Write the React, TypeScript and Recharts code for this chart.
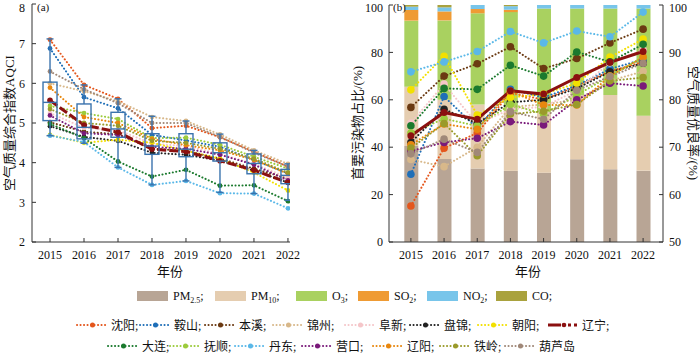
import React from 'react';
import { ComposedChart, Bar, Line, XAxis, YAxis } from 'recharts';

const years = [2015, 2016, 2017, 2018, 2019, 2020, 2021, 2022];
const cities = ['沈阳', '鞍山', '本溪', '锦州', '阜新', '盘锦', '朝阳', '辽宁', '大连', '抚顺', '丹东', '营口', '辽阳', '铁岭', '葫芦岛'];
const cityColors = ['#e4561c', '#1f6fb8', '#6b3a12', '#d8b88a', '#f5c6c9', '#222222', '#f2e000', '#8b1010', '#1b7a2e', '#9ccb3c', '#5ab8e8', '#7a1a7a', '#e8870e', '#9a9a2a', '#a08878'];
const provinceName = '辽宁';

// (a) AQCI per city (order = cities)
const aqci: number[][] = [
  [7.1, 5.96, 5.61, 4.87, 4.93, 4.64, 4.28, 3.9],
  [6.88, 5.65, 5.37, 4.7, 4.56, 4.4, 4.07, 3.73],
  [5.02, 4.78, 4.72, 4.35, 4.3, 4.1, 3.85, 3.6],
  [6.0, 5.8, 5.55, 5.15, 5.05, 4.71, 4.31, 3.97],
  [5.25, 4.88, 4.82, 4.48, 4.42, 4.22, 3.97, 3.62],
  [4.92, 4.65, 4.55, 4.25, 4.2, 4.05, 3.8, 3.5],
  [4.7, 4.5, 4.58, 4.5, 4.3, 4.1, 3.75, 3.3],
  [5.57, 4.95, 4.77, 4.34, 4.28, 4.05, 3.81, 3.5],
  [4.98, 4.62, 4.03, 3.65, 3.82, 3.42, 3.43, 3.03],
  [5.43, 5.25, 5.1, 4.62, 4.63, 4.45, 4.15, 3.85],
  [4.68, 4.52, 3.88, 3.44, 3.54, 3.23, 3.22, 2.85],
  [5.19, 4.74, 4.7, 4.4, 4.35, 4.2, 3.95, 3.55],
  [5.89, 5.15, 5.0, 4.6, 4.44, 4.31, 4.07, 3.72],
  [5.35, 5.0, 4.93, 4.55, 4.5, 4.35, 4.1, 3.75],
  [6.3, 5.85, 5.5, 5.0, 5.0, 4.65, 4.25, 3.9],
];

// (a) box statistics
const boxMin = [4.68, 4.49, 3.88, 3.44, 3.54, 3.25, 3.22, 3.05];
const boxQ1 = [5.06, 4.6, 4.64, 4.21, 4.15, 4.04, 3.72, 3.47];
const boxMed = [5.52, 4.89, 4.85, 4.42, 4.34, 4.25, 3.98, 3.68];
const boxQ3 = [6.03, 5.48, 5.27, 4.73, 4.73, 4.5, 4.22, 3.83];
const boxMax = [7.12, 5.96, 5.61, 5.17, 5.05, 4.72, 4.31, 3.97];

// (b) primary pollutant share (%)
const pollutantNames = [['PM', '2.5'], ['PM', '10'], ['O', '3'], ['SO', '2'], ['NO', '2'], ['CO', '']];
const pollutantColors = ['#b8a595', '#e5cdb0', '#a9d160', '#ef9b34', '#78c5ea', '#a9a23e'];
const pm25Share = [40.5, 35, 31, 30, 29.2, 34.9, 30.7, 30.1];
const pm10Share = [25, 25, 27, 25, 25.8, 27.1, 31.3, 23.2];
const o3Share = [27.9, 33.5, 38.5, 42, 43.5, 36.5, 36.5, 45.2];
const so2Share = [4.5, 3.8, 1.8, 1, 0, 0, 0, 0];
const no2Share = [1.4, 1.7, 1.7, 1.5, 1.5, 1.5, 1.5, 1.5];
const coShare = [0.7, 1.0, 0, 0.5, 0, 0, 0, 0];
const shares = [pm25Share, pm10Share, o3Share, so2Share, no2Share, coShare];

// (b) excellent/good rate (%) per city
const goodRate: number[][] = [
  [57.6, 69.8, 73, 81.5, 80, 82.9, 86, 88],
  [64.3, 80.7, 74, 82.2, 80.5, 83, 86.5, 88.5],
  [78.4, 85, 87.6, 91.2, 86.6, 88.7, 92, 94.9],
  [67.4, 65.9, 70, 78.5, 79, 80, 84, 86],
  [75.1, 83.3, 74.9, 78, 78.5, 82, 87.8, 90.5],
  [71, 78, 75, 79.5, 80, 82.4, 85.9, 87.7],
  [82.1, 89.2, 76.8, 80.5, 81.2, 83.5, 89, 92.8],
  [72.4, 77.3, 75.9, 81.9, 81.2, 84.7, 87.9, 90.2],
  [74.5, 82.4, 82.2, 87.3, 85, 90.1, 88, 91.7],
  [73, 76, 74.5, 79, 77, 81, 85, 89],
  [85.9, 88, 90.2, 94.4, 92, 94.5, 93.3, 98.5],
  [69.2, 71, 71.9, 75.4, 74.7, 80, 83.5, 82.9],
  [70.5, 74.9, 73.8, 81.8, 78.9, 78.9, 85, 89],
  [69.8, 75, 68.2, 77, 77.6, 79, 84, 84.7],
  [68.6, 71.7, 68.9, 77.5, 75.9, 82, 84.9, 87.7],
];

const aTicks = [2, 3, 4, 5, 6, 7, 8];
const bLeftTicks = [0, 20, 40, 60, 80, 100];
const bRightTicks = [50, 60, 70, 80, 90, 100];

const FONT = '"Liberation Serif", "Noto Sans CJK SC", serif';
const AX = '#333';
const BOX = '#3a73ad';
const DOTTED = '0.1 3.4';

const dataA = years.map((y, i) => {
  const row: any = { year: y, box: [boxQ1[i], boxQ3[i]], min: boxMin[i], q1: boxQ1[i], med: boxMed[i], q3: boxQ3[i], max: boxMax[i] };
  cities.forEach((_, c) => { row['c' + c] = aqci[c][i]; });
  return row;
});

const dataB = years.map((y, i) => {
  const row: any = { year: y };
  shares.forEach((s, k) => { row['p' + k] = s[i]; });
  cities.forEach((_, c) => { row['c' + c] = goodRate[c][i]; });
  return row;
});

const BoxShape = (props: any) => {
  const { x, y, width, height, payload } = props;
  if (x == null || y == null) return null;
  const top = Math.min(y, y + height);
  const bot = Math.max(y, y + height);
  const ppu = (bot - top) / (payload.q3 - payload.q1);
  const yMed = bot - (payload.med - payload.q1) * ppu;
  const yMax = top - (payload.max - payload.q3) * ppu;
  const yMin = bot + (payload.q1 - payload.min) * ppu;
  const cx = x + width / 2;
  const cap = 3.5;
  return (
    <g stroke={BOX} strokeWidth={1.4} fill="none">
      <line x1={cx} x2={cx} y1={yMax} y2={top} />
      <line x1={cx} x2={cx} y1={bot} y2={yMin} />
      <line x1={cx - cap} x2={cx + cap} y1={yMax} y2={yMax} />
      <line x1={cx - cap} x2={cx + cap} y1={yMin} y2={yMin} />
      <rect x={x} y={top} width={width} height={bot - top} />
      <line x1={x} x2={x + width} y1={yMed} y2={yMed} />
    </g>
  );
};

const tickStyle = { fontSize: 12, fill: '#111', fontFamily: FONT };

const cityOrderDraw = cities.map((_, i) => i).filter((i) => cities[i] !== provinceName).concat([cities.indexOf(provinceName)]);

const legendRow2 = [0, 1, 2, 3, 4, 5, 6, 7];
const legendRow2X = [77, 140, 205, 273, 345, 410, 478, 548];
const legendRow3 = [8, 9, 10, 11, 12, 13, 14];
const legendRow3X = [108, 170, 235, 302, 373, 440, 505];
const pollutantLegendX = [137, 215, 296, 358, 427, 496];

const LegendMarker = ({ x, y, c }: { x: number; y: number; c: number }) => {
  const color = cityColors[c];
  if (cities[c] === provinceName) {
    return (
      <g>
        <line x1={x} x2={x + 13} y1={y} y2={y} stroke={color} strokeWidth={3} />
        <circle cx={x + 16} cy={y} r={2.3} fill={color} />
        <line x1={x + 20} x2={x + 31} y1={y} y2={y} stroke={color} strokeWidth={3} strokeDasharray="3 3" />
      </g>
    );
  }
  return (
    <g>
      <line x1={x} x2={x + 31} y1={y} y2={y} stroke={color} strokeWidth={2} strokeDasharray={DOTTED} strokeLinecap="round" />
      <circle cx={x + 15.5} cy={y} r={2.5} fill={color} />
    </g>
  );
};

const AxesA = ({ visible }: { visible: boolean }) => null;

export default function App() {
  const xA = (visible: boolean) => (
    <XAxis
      dataKey="year"
      type="number"
      domain={[2014.47, 2022.06]}
      ticks={years}
      allowDataOverflow
      tick={visible ? tickStyle : false}
      tickLine={visible}
      axisLine={visible}
      tickSize={-4}
      tickMargin={12}
      stroke={AX}
      height={30}
    />
  );
  const yA = (visible: boolean) => (
    <YAxis
      type="number"
      domain={[2, 8]}
      ticks={aTicks}
      allowDataOverflow
      tick={visible ? tickStyle : false}
      tickLine={visible}
      axisLine={visible}
      tickSize={-4}
      tickMargin={11}
      stroke={AX}
      width={32}
    />
  );
  return (
    <div style={{ position: 'absolute', left: 0, top: 0, width: 700, height: 356, background: '#fff', overflow: 'hidden', fontFamily: FONT }}>
      {/* Panel (a): city lines */}
      <div style={{ position: 'absolute', left: 0, top: 0 }}>
        <ComposedChart width={300} height={272} data={dataA} margin={{ top: 4, right: 10, bottom: 0, left: 0 }}>
          {xA(true)}
          {yA(true)}
          {cityOrderDraw.map((c) => {
            const isProv = cities[c] === provinceName;
            return (
              <Line
                key={'a' + c}
                dataKey={'c' + c}
                stroke={cityColors[c]}
                strokeWidth={isProv ? 3 : 2}
                strokeDasharray={isProv ? '9 3' : DOTTED}
                strokeLinecap={isProv ? 'butt' : 'round'}
                dot={{ r: isProv ? 2.8 : 2.4, fill: cityColors[c], stroke: 'none' }}
                isAnimationActive={false}
                type="linear"
              />
            );
          })}
        </ComposedChart>
      </div>
      {/* Panel (a): box plots on top */}
      <div style={{ position: 'absolute', left: 0, top: 0 }}>
        <ComposedChart width={300} height={272} data={dataA} margin={{ top: 4, right: 10, bottom: 0, left: 0 }}>
          {xA(false)}
          {yA(false)}
          <Bar dataKey="box" barSize={14} shape={<BoxShape />} isAnimationActive={false} />
        </ComposedChart>
      </div>

      {/* Panel (b) */}
      <div style={{ position: 'absolute', left: 340, top: 0 }}>
        <ComposedChart width={360} height={272} data={dataB} margin={{ top: 5, right: 0, bottom: 0, left: 0 }}>
          <XAxis
            dataKey="year"
            type="number"
            domain={[2014.34, 2022.6]}
            ticks={years}
            allowDataOverflow
            tick={tickStyle}
            tickSize={-4}
            tickMargin={12}
            stroke={AX}
            height={30}
          />
          <YAxis
            yAxisId="left"
            type="number"
            domain={[0, 100]}
            ticks={bLeftTicks}
            allowDataOverflow
            tick={tickStyle}
            tickSize={-4}
            tickMargin={10}
            stroke={AX}
            width={49}
          />
          <YAxis
            yAxisId="right"
            orientation="right"
            type="number"
            domain={[50, 100]}
            ticks={bRightTicks}
            allowDataOverflow
            tick={tickStyle}
            tickSize={-4}
            tickMargin={10}
            stroke={AX}
            width={37}
          />
          {shares.map((_, k) => (
            <Bar key={'p' + k} yAxisId="left" dataKey={'p' + k} stackId="s" fill={pollutantColors[k]} barSize={14} isAnimationActive={false} />
          ))}
          {cityOrderDraw.map((c) => {
            const isProv = cities[c] === provinceName;
            return (
              <Line
                key={'b' + c}
                yAxisId="right"
                dataKey={'c' + c}
                stroke={cityColors[c]}
                strokeWidth={isProv ? 3 : 2}
                strokeDasharray={isProv ? undefined : DOTTED}
                strokeLinecap={isProv ? 'butt' : 'round'}
                dot={{ r: isProv ? 3.5 : 3.8, fill: cityColors[c], stroke: 'none' }}
                isAnimationActive={false}
                type="linear"
              />
            );
          })}
        </ComposedChart>
      </div>

      {/* Overlay texts and legend */}
      <svg width={700} height={356} style={{ position: 'absolute', left: 0, top: 0, pointerEvents: 'none' }} fontFamily={FONT}>
        <text x={37} y={11} fontSize={11} fill="#111">(a)</text>
        <text x={393} y={11} fontSize={11} fill="#111">(b)</text>
        <text transform="translate(14,123) rotate(-90)" textAnchor="middle" fontSize={13} fill="#111">空气质量综合指数AQCI</text>
        <text transform="translate(362,123) rotate(-90)" textAnchor="middle" fontSize={13} fill="#111">首要污染物占比/(%)</text>
        <text transform="translate(689,123) rotate(90)" textAnchor="middle" fontSize={13} fill="#111">空气质量优良率/(%)</text>
        <text x={170} y={276} textAnchor="middle" fontSize={13} fill="#111">年份</text>
        <text x={528} y={276} textAnchor="middle" fontSize={13} fill="#111">年份</text>

        {pollutantNames.map((p, k) => (
          <g key={'pl' + k}>
            <rect x={pollutantLegendX[k]} y={291} width={31} height={10} fill={pollutantColors[k]} />
            <text x={pollutantLegendX[k] + 36} y={300} fontSize={12} fill="#111">
              <tspan>{p[0]}</tspan>
              {p[1] ? <tspan fontSize={8} dy={3}>{p[1]}</tspan> : null}
              <tspan dy={p[1] ? -3 : 0}>;</tspan>
            </text>
          </g>
        ))}

        {legendRow2.map((c, i) => (
          <g key={'l2' + c}>
            <LegendMarker x={legendRow2X[i]} y={325} c={c} />
            <text x={legendRow2X[i] + 34} y={330} fontSize={12} fill="#111">{cities[c] + ';'}</text>
          </g>
        ))}
        {legendRow3.map((c, i) => (
          <g key={'l3' + c}>
            <LegendMarker x={legendRow3X[i]} y={346} c={c} />
            <text x={legendRow3X[i] + 34} y={351} fontSize={12} fill="#111">{cities[c] + (i < legendRow3.length - 1 ? ';' : '')}</text>
          </g>
        ))}
      </svg>
    </div>
  );
}
